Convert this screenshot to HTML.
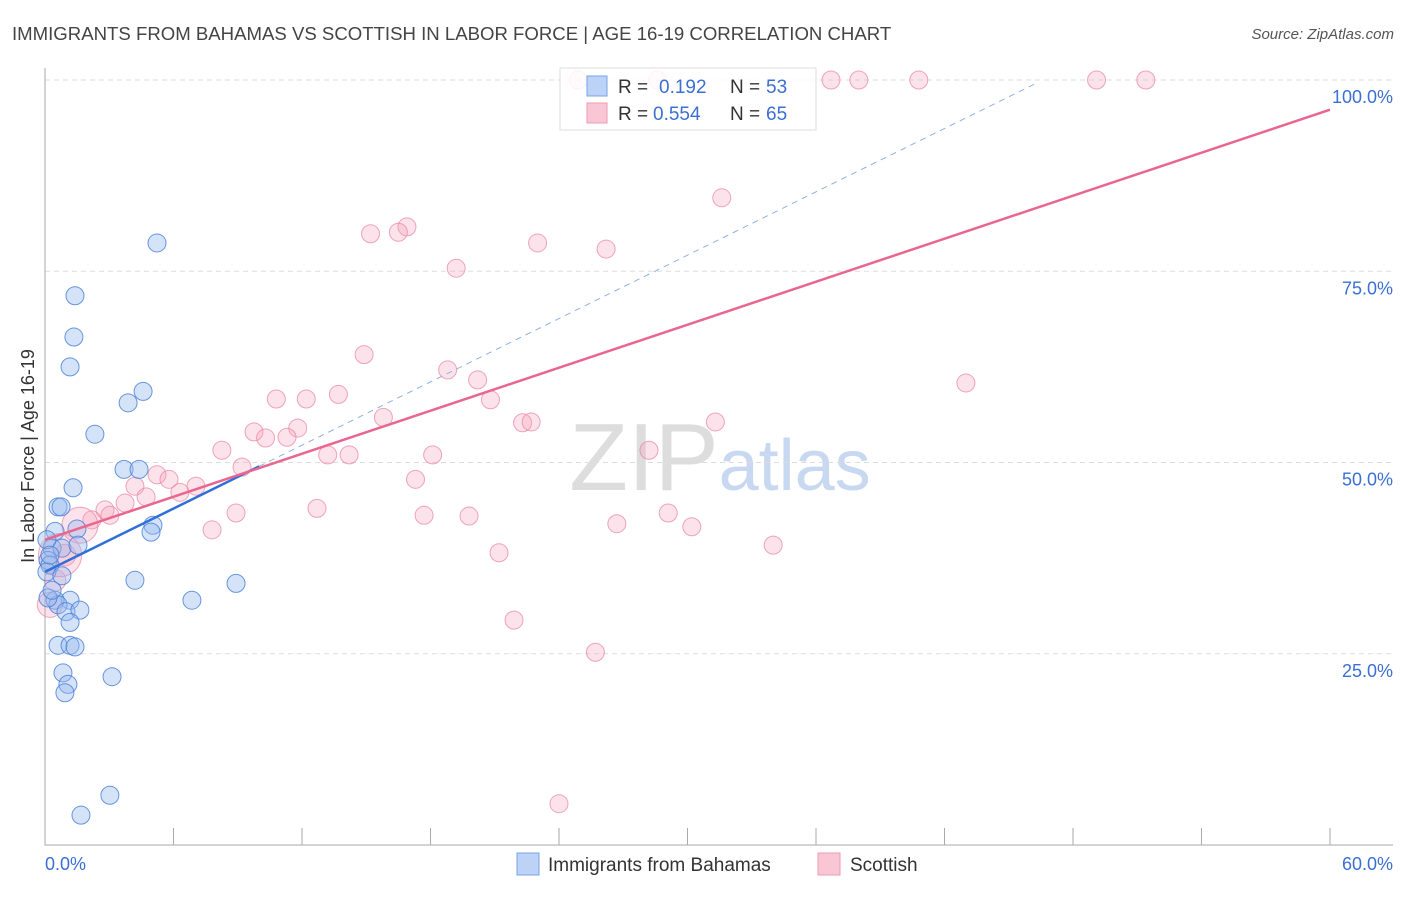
<!DOCTYPE html>
<html><head><meta charset="utf-8"><style>
body{margin:0;background:#fff;font-family:"Liberation Sans",sans-serif}
svg text{font-family:"Liberation Sans",sans-serif}
</style></head><body>
<svg id="chart" width="1406" height="892" xmlns="http://www.w3.org/2000/svg">
<text x="12" y="40" font-size="18.6" fill="#444">IMMIGRANTS FROM BAHAMAS VS SCOTTISH IN LABOR FORCE | AGE 16-19 CORRELATION CHART</text>
<text x="1394" y="39" font-size="15" fill="#555" text-anchor="end" font-style="italic">Source: ZipAtlas.com</text>
<text x="720" y="490" font-size="96" fill="#ddd" text-anchor="middle" font-family="Liberation Serif">ZIP<tspan fill="#c8d8f0" font-family="Liberation Sans" font-size="72">atlas</tspan></text>
<text transform="translate(34,456) rotate(-90)" font-size="18" fill="#333" text-anchor="middle">In Labor Force | Age 16-19</text>
<g id="grid"></g><g id="axes"></g><g id="pts"></g><g id="lines"></g>
<g>
<rect x="560" y="68" width="256" height="62" fill="#fff" fill-opacity="0.85" stroke="#ddd"/>
<rect x="587" y="76" width="20" height="20" fill="#bcd3f7" stroke="#7aa2e6"/>
<rect x="587" y="103" width="20" height="20" fill="#f9c6d5" stroke="#ee9ab4"/>
<text x="618" y="93" font-size="19" fill="#333">R =</text><text x="659" y="93" font-size="19" fill="#3b6fd4">0.192</text>
<text x="730" y="93" font-size="19" fill="#333">N =</text><text x="766" y="93" font-size="19" fill="#3b6fd4">53</text>
<text x="618" y="120" font-size="19" fill="#333">R =</text><text x="653" y="120" font-size="19" fill="#3b6fd4">0.554</text>
<text x="730" y="120" font-size="19" fill="#333">N =</text><text x="766" y="120" font-size="19" fill="#3b6fd4">65</text>
</g>
<g><rect x="517" y="853" width="22" height="22" fill="#bcd3f7" stroke="#7aa2e6"/><text x="548" y="871" font-size="19" fill="#333">Immigrants from Bahamas</text></g>
<g><rect x="818" y="853" width="22" height="22" fill="#f9c6d5" stroke="#ee9ab4"/><text x="850" y="871" font-size="19" fill="#333">Scottish</text></g>
</svg>
<script>
const blueX=[5.23,1.40,1.35,1.17,4.58,3.88,2.33,3.69,4.39,1.31,0.61,0.75,5.04,4.95,1.49,0.47,0.33,0.79,1.54,0.14,0.23,0.09,0.79,4.20,8.92,6.86,1.17,0.47,0.61,0.98,1.63,1.17,0.61,1.17,1.40,0.84,1.07,0.93,3.13,3.03,1.68,0.14,0.33,0.09,0.23];
const blueY=[78.7,71.8,66.4,62.5,59.3,57.8,53.7,49.1,49.1,46.7,44.2,44.2,41.8,40.9,41.3,41.0,38.8,38.8,39.2,37.2,36.6,35.7,35.2,34.6,34.2,32.0,32.0,32.0,31.4,30.5,30.7,29.1,26.1,26.1,25.9,22.5,21.0,19.9,22.0,6.5,3.9,32.3,33.3,39.9,37.9];
const pinkX=[24.9,28.6,36.7,38.0,40.8,49.1,51.4,31.6,16.9,16.5,15.2,23.0,26.2,19.2,14.9,18.8,20.2,43.0,10.8,12.2,13.7,20.8,15.8,22.3,22.7,31.3,9.76,11.8,10.3,11.3,8.26,13.2,14.2,18.1,28.2,9.20,5.23,5.79,6.30,7.05,17.3,4.20,3.74,4.72,2.80,2.19,3.03,12.7,8.92,17.7,19.8,7.80,26.7,29.1,30.2,34.0,21.2,21.9,25.7,24.0,0.23,0.93,0.47,1.63,0.70];
const pinkY=[100,100,100,100,100,100,100,84.6,80.8,80.1,79.9,78.7,77.9,75.4,64.1,62.1,60.8,60.4,58.3,58.3,58.9,58.2,55.9,55.2,55.3,55.3,54.0,54.5,53.2,53.3,51.6,51.0,51.0,51.0,51.6,49.4,48.4,47.8,46.1,46.9,47.8,46.9,44.7,45.5,43.8,42.5,43.1,44.0,43.4,43.1,43.0,41.2,42.0,43.4,41.6,39.2,38.2,29.4,25.2,5.4,31.4,37.9,34.6,41.8,37.9];
const pinkSize=[1,1,1,1,1,1,1,1,1,1,1,1,1,1,1,1,1,1,1,1,1,1,1,1,1,1,1,1,1,1,1,1,1,1,1,1,1,1,1,1,1,1,1,1,1,1,1,1,1,1,1,1,1,1,1,1,1,1,1,1,1.4,1.2,1.2,2.0,2.4];
const yTicks=[25,50,75,100];
const yTickLabels=["25.0%","50.0%","75.0%","100.0%"];
const blueTrend=[35.7,1.38];
const pinkTrend=[39.9,0.937];
const NS="http://www.w3.org/2000/svg";
const sx=v=>45+v/60*1285, sy=v=>845-v*7.65;
function mk(p,t,a){const e=document.createElementNS(NS,t);for(const k in a)e.setAttribute(k,a[k]);document.getElementById(p).appendChild(e);return e;}
yTicks.forEach((t,i)=>{
 const g=mk('grid','line',{x1:45,x2:1393,y1:sy(t),y2:sy(t),stroke:'#ddd','stroke-dasharray':'5,4'});
 
 
 const l=mk('grid','text',{x:1393,y:sy(t)+23,'font-size':18,fill:'#3b6fd4','text-anchor':'end'});l.textContent=yTickLabels[i];
 
 
});
const ax=mk('axes','path',{d:'M45,68V845H1393',fill:'none',stroke:'#aaa'});


for(let i=0;i<=10;i++){const t=mk('axes','line',{x1:sx(i*6),x2:sx(i*6),y1:828,y2:845,stroke:'#aaa'});
 
 }
const x0=mk('axes','text',{x:45,y:870,'font-size':18,fill:'#3b6fd4'});x0.textContent='0.0%';


const x1=mk('axes','text',{x:1393,y:870,'font-size':18,fill:'#3b6fd4','text-anchor':'end'});x1.textContent='60.0%';


pinkX.forEach((x,i)=>{const c=mk('pts','circle',{cx:sx(x),cy:sy(pinkY[i]),r:9*pinkSize[i],fill:'rgba(244,160,185,0.3)',stroke:'rgba(232,130,160,0.7)','stroke-width':1});
 
 });
blueX.forEach((x,i)=>{const c=mk('pts','circle',{cx:sx(x),cy:sy(blueY[i]),r:9,fill:'rgba(150,185,240,0.4)',stroke:'rgba(70,125,215,0.8)','stroke-width':1});
 
 });
const bd=mk('lines','line',{x1:sx(10),y1:sy(blueTrend[0]+blueTrend[1]*10),x2:sx(46.2),y2:sy(blueTrend[0]+blueTrend[1]*46.2),stroke:'#8fb0e6','stroke-dasharray':'6,5','stroke-width':1});


const bl=mk('lines','line',{x1:sx(0),y1:sy(blueTrend[0]),x2:sx(10),y2:sy(blueTrend[0]+blueTrend[1]*10),stroke:'#2f6fd8','stroke-width':2.5});


const pl=mk('lines','line',{x1:sx(0),y1:sy(pinkTrend[0]),x2:sx(60),y2:sy(pinkTrend[0]+pinkTrend[1]*60),stroke:'#e8668f','stroke-width':2.5});


</script>
</body></html>
